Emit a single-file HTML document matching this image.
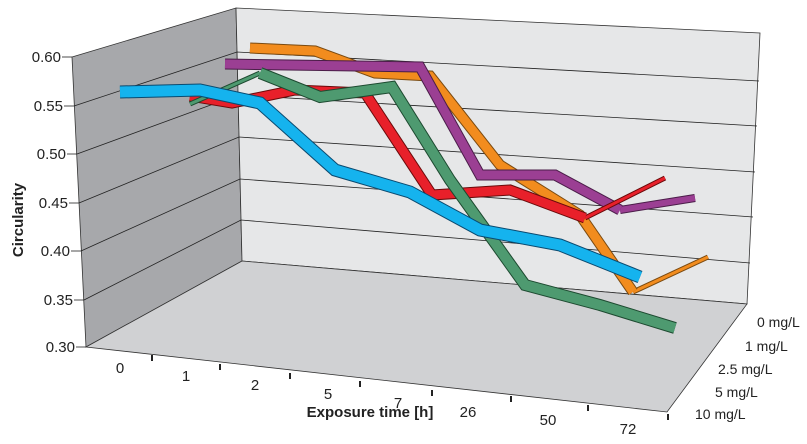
<!DOCTYPE html>
<html><head><meta charset="utf-8"><style>
html,body{margin:0;padding:0;background:#fff}
svg{display:block;font-family:"Liberation Sans",Arial,sans-serif}
</style></head><body>
<svg width="807" height="444" viewBox="0 0 807 444">
<polygon points="72,57 236,8 242,261 86,347" fill="#a7a8ab" stroke="#333" stroke-width="0.8"/>
<polygon points="236,8 760,33 747,304 242,261" fill="#e6e7e8" stroke="#333" stroke-width="0.8"/>
<polygon points="86,347 242,261 747,304 667,412" fill="#d0d1d3" stroke="#333" stroke-width="0.8"/>
<g stroke="#222" stroke-width="0.8" fill="none">
<polyline points="74,106 237,52 759,81"/>
<polyline points="77,154 238,95 757,126"/>
<polyline points="79,203 239,137 755,172"/>
<polyline points="81,251 240,179 753,217"/>
<polyline points="84,300 241,220 750,263"/>
<line x1="62" y1="57" x2="72" y2="57"/>
<line x1="64" y1="106" x2="74" y2="106"/>
<line x1="67" y1="154" x2="77" y2="154"/>
<line x1="69" y1="203" x2="79" y2="203"/>
<line x1="71" y1="251" x2="81" y2="251"/>
<line x1="74" y1="300" x2="84" y2="300"/>
<line x1="76" y1="347" x2="86" y2="347"/>
</g>
<g stroke="#222" stroke-width="2">
<line x1="152" y1="355" x2="152" y2="361"/>
<line x1="220" y1="364" x2="220" y2="370"/>
<line x1="290" y1="373" x2="290" y2="379"/>
<line x1="360" y1="381" x2="360" y2="387"/>
<line x1="432" y1="390" x2="432" y2="396"/>
<line x1="511" y1="396" x2="511" y2="402"/>
<line x1="588" y1="405" x2="588" y2="411"/>
<line x1="668" y1="414" x2="668" y2="420"/>
</g>
<g fill="none" stroke-linejoin="miter" stroke-miterlimit="3">
<polyline points="633,292 708,257" stroke="#7a4a10" stroke-width="5"/>
<polyline points="633,292 708,257" stroke="#f28c1e" stroke-width="3"/>
<polyline points="250,48 315,51 375,73 430,76 500,165 580,215 633,292" stroke="#7a4a10" stroke-width="11"/>
<polyline points="250,48 315,51 375,73 430,76 500,165 580,215 633,292" stroke="#f28c1e" stroke-width="9"/>
<polyline points="620,210 695,198" stroke="#4a1d48" stroke-width="8"/>
<polyline points="620,210 695,198" stroke="#9b3f93" stroke-width="6"/>
<polyline points="225,64 420,67 480,175 555,175 620,210" stroke="#4a1d48" stroke-width="11"/>
<polyline points="225,64 420,67 480,175 555,175 620,210" stroke="#9b3f93" stroke-width="9"/>
<polyline points="585,218 665,178" stroke="#6a0a0a" stroke-width="5"/>
<polyline points="585,218 665,178" stroke="#e8202a" stroke-width="3"/>
<polyline points="190,96 232,103 295,90 365,93 432,195 510,190 585,218" stroke="#6a0a0a" stroke-width="11"/>
<polyline points="190,96 232,103 295,90 365,93 432,195 510,190 585,218" stroke="#e8202a" stroke-width="9"/>
<polyline points="190,104 260,73" stroke="#1d4a30" stroke-width="5"/>
<polyline points="190,104 260,73" stroke="#4e9a70" stroke-width="3"/>
<polyline points="260,73 320,97 392,87 450,180 525,285 600,305 675,328" stroke="#1d4a30" stroke-width="12"/>
<polyline points="260,73 320,97 392,87 450,180 525,285 600,305 675,328" stroke="#4e9a70" stroke-width="10"/>
<polyline points="120,92 200,90 260,103 335,170 410,192 480,230 560,245 640,277" stroke="#0a4a70" stroke-width="13"/>
<polyline points="120,92 200,90 260,103 335,170 410,192 480,230 560,245 640,277" stroke="#15b3ee" stroke-width="11"/>
</g>
<g font-size="15" fill="#222" text-anchor="end">
<text x="61" y="62">0.60</text>
<text x="63" y="111">0.55</text>
<text x="66" y="159">0.50</text>
<text x="68" y="208">0.45</text>
<text x="70" y="256">0.40</text>
<text x="73" y="305">0.35</text>
<text x="75" y="352">0.30</text>
</g>
<text transform="translate(23,220) rotate(-90)" font-size="15" font-weight="bold" text-anchor="middle" fill="#222">Circularity</text>
<g font-size="15" fill="#222" text-anchor="middle">
<text x="120" y="373">0</text>
<text x="186" y="381">1</text>
<text x="255" y="390">2</text>
<text x="328" y="399">5</text>
<text x="398" y="408">7</text>
<text x="468" y="417">26</text>
<text x="548" y="425">50</text>
<text x="628" y="434">72</text>
</g>
<text x="370" y="417" font-size="15" font-weight="bold" text-anchor="middle" fill="#222">Exposure time [h]</text>
<g font-size="14" fill="#222">
<text x="757" y="327">0 mg/L</text>
<text x="745" y="351">1 mg/L</text>
<text x="718" y="374">2.5 mg/L</text>
<text x="715" y="397">5 mg/L</text>
<text x="695" y="419">10 mg/L</text>
</g>
</svg>
</body></html>
